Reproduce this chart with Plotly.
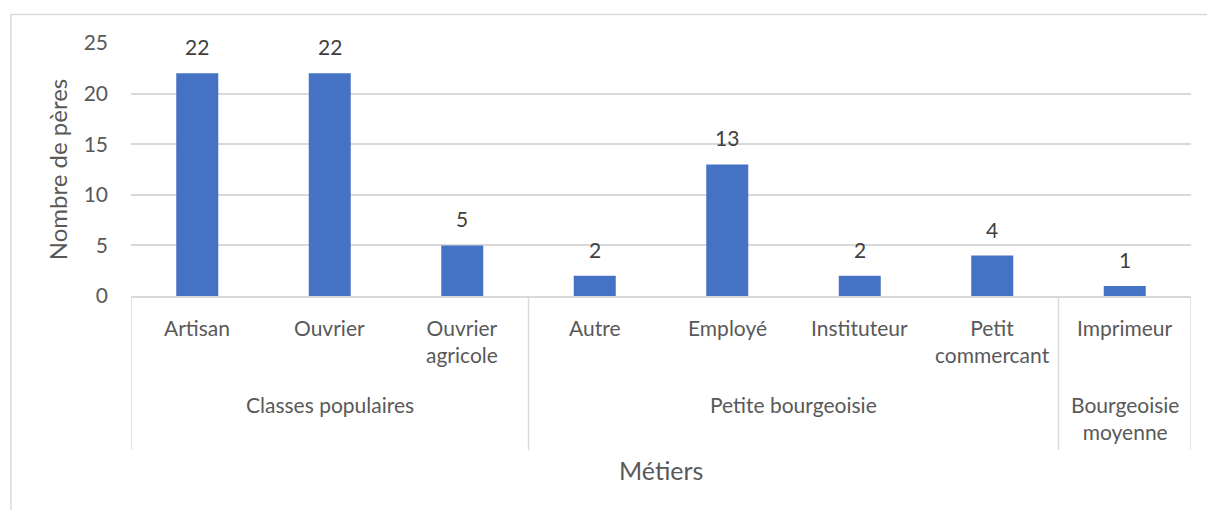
import plotly.graph_objects as go

metiers = ["Artisan", "Ouvrier", "Ouvrier<br>agricole", "Autre", "Employé",
           "Instituteur", "Petit<br>commercant", "Imprimeur"]
groupes = ["Classes populaires", "Classes populaires", "Classes populaires",
           "Petite bourgeoisie", "Petite bourgeoisie", "Petite bourgeoisie",
           "Petite bourgeoisie", "Bourgeoisie<br>moyenne"]
nb_peres = [22, 22, 5, 2, 13, 2, 4, 1]
y_ticks = [0, 5, 10, 15, 20, 25]

bleu = "#4472C4"
gris_txt = "#595959"
gris_ligne = "#D9D9D9"
police = "Lato"
taille = 21

W, H = 1207, 510
L, R, T, B = 131, 16, 43, 214
ph = H - T - B
pw = W - L - R

def py(px_y):
    # pixel row -> paper y
    return (H - B - px_y) / ph

x_idx = list(range(len(metiers)))

fig = go.Figure()
fig.add_trace(go.Bar(x=x_idx, y=nb_peres, marker_color=bleu, marker_line_width=0))

annotations = []
# data labels above bars
for i, v in enumerate(nb_peres):
    annotations.append(dict(x=i, y=v, xref="x", yref="y", text=str(v), showarrow=False,
                            yanchor="bottom", yshift=12,
                            font=dict(size=taille, color="#404040", family=police)))

for i, m in enumerate(metiers):
    annotations.append(dict(x=i, y=py(313), xref="x", yref="paper", text=m,
                            showarrow=False, yanchor="top",
                            font=dict(size=taille, color=gris_txt, family=police)))

# group labels and separators
sep = [-0.5]
debut = 0
for i in range(1, len(groupes) + 1):
    if i == len(groupes) or groupes[i] != groupes[debut]:
        annotations.append(dict(x=(debut + i - 1) / 2, y=py(390), xref="x", yref="paper",
                                text=groupes[debut], showarrow=False, yanchor="top",
                                font=dict(size=taille, color=gris_txt, family=police)))
        sep.append(i - 0.5)
        debut = i

annotations.append(dict(x=0.5, y=py(470), xref="paper", yref="paper", text="Métiers",
                        showarrow=False, yanchor="middle",
                        font=dict(size=25, color=gris_txt, family=police)))

shapes = []
for s in sep:
    shapes.append(dict(type="line", xref="x", yref="paper", x0=s, x1=s,
                       y0=0, y1=py(450), line=dict(color=gris_ligne, width=1.5)))
# chart border (top and left visible)
shapes.append(dict(type="line", xref="paper", yref="paper",
                   x0=(11 - L) / pw, x1=(W - L) / pw, y0=py(14.5), y1=py(14.5),
                   line=dict(color=gris_ligne, width=1.5)))
shapes.append(dict(type="line", xref="paper", yref="paper",
                   x0=(11 - L) / pw, x1=(11 - L) / pw, y0=py(14), y1=py(H),
                   line=dict(color=gris_ligne, width=1.5)))

fig.update_layout(
    width=W, height=H,
    margin=dict(l=L, r=R, t=T, b=B),
    plot_bgcolor="white", paper_bgcolor="white",
    bargap=0.683, showlegend=False,
    annotations=annotations, shapes=shapes,
    font=dict(family=police, color=gris_txt),
)
fig.update_xaxes(range=[-0.5, len(metiers) - 0.5], showticklabels=False,
                 showgrid=False, showline=True, linecolor=gris_ligne, linewidth=1.5,
                 zeroline=False)
fig.update_yaxes(range=[0, 25], tickvals=y_ticks, showgrid=True, gridcolor=gris_ligne,
                 gridwidth=1.5, zeroline=False, showline=False,
                 tickfont=dict(size=taille, color=gris_txt, family=police),
                 ticks="", ticklabelstandoff=22,
                 title=dict(text="Nombre de pères",
                            font=dict(size=24, color=gris_txt, family=police),
                            standoff=9))

fig.write_html("out.html", config={"displayModeBar": False},
               post_script="document.body.style.margin='0';")
